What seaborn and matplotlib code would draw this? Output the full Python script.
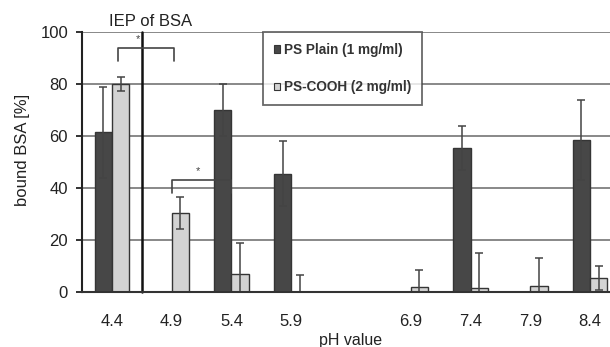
import numpy as np
import pandas as pd
import matplotlib
matplotlib.use('Agg')
import matplotlib.pyplot as plt
import seaborn as sns

# data
ph = ['4.4', '4.9', '5.4', '5.9', '6.4', '6.9', '7.4', '7.9', '8.4']
ph_labels = ['4.4', '4.9', '5.4', '5.9', '', '6.9', '7.4', '7.9', '8.4']
series = ['PS Plain (1 mg/ml)', 'PS-COOH (2 mg/ml)']
plain = [61.5, 0, 70, 45.5, 0, 0, 55.5, 0, 58.5]
plain_err = [17.5, np.nan, 10, 12.5, np.nan, np.nan, 8.5, np.nan, 15.5]
cooh = [80, 30.5, 7, 0, 0, 2, 1.5, 2.5, 5.5]
cooh_err = [2.8, 6.2, 12, 6.5, np.nan, 6.5, 13.5, 10.5, 4.6]

colors = {series[0]: '#474747', series[1]: '#d3d3d3'}

df = pd.DataFrame({
    'pH': ph * 2,
    'bound': plain + cooh,
    'series': [series[0]] * len(ph) + [series[1]] * len(ph),
})

sns.set_style('white')
plt.rcParams['font.family'] = ['Liberation Sans', 'DejaVu Sans']

fig = plt.figure(figsize=(6.1, 3.47), dpi=100)
ax = fig.add_axes([82 / 610, 55 / 347, 538 / 610, 260 / 347])

ax.yaxis.grid(True, color='#7f7f7f', lw=1.3)
ax.set_axisbelow(True)

sns.barplot(data=df, x='pH', y='bound', hue='series', order=ph, hue_order=series,
            palette=colors, width=0.58, gap=0, errorbar=None,
            edgecolor='#353535', linewidth=1.0, ax=ax)

for cont, errs in zip(ax.containers, [plain_err, cooh_err]):
    for bar, e in zip(cont, errs):
        if np.isnan(e):
            continue
        xc = bar.get_x() + bar.get_width() / 2
        ax.errorbar(xc, bar.get_height(), yerr=e, color='#444444', lw=1.1,
                    capsize=3, capthick=1.1)

ax.set_ylim(0, 100)
ax.set_xlim(-0.5, 8.5)
ax.set_yticks([0, 20, 40, 60, 80, 100])
ax.set_xticks(range(len(ph)))
ax.set_xticklabels(ph_labels)
ax.set_xticks(np.arange(-0.5, len(ph), 1), minor=True)
ax.tick_params(axis='x', which='major', length=0, pad=16, labelsize=12, colors='#222222')
ax.tick_params(axis='x', which='minor', length=4, width=1.3, direction='out', color='#333333')
ax.tick_params(axis='y', length=4, width=1.3, direction='out', pad=6, labelsize=12,
               colors='#222222', left=True)

for s in ['top', 'right']:
    ax.spines[s].set_visible(False)
ax.spines['left'].set_color('#222222')
ax.spines['left'].set_linewidth(1.5)
ax.spines['bottom'].set_color('#333333')
ax.spines['bottom'].set_linewidth(1.5)

ax.set_xlabel('pH value', fontsize=11.5, color='#222222', labelpad=3)
ax.set_ylabel('bound BSA [%]', fontsize=12, color='#222222')
ax.yaxis.set_label_coords(-0.097, 0.545)

# isoelectric point marker
ax.axvline(0.5, color='#111111', lw=1.8, clip_on=False)
ax.text(0.65, 102.3, 'IEP of BSA', ha='center', va='baseline', fontsize=12, color='#222222')

# significance brackets
ax.plot([0.1, 0.1, 1.04, 1.04], [88.8, 93.8, 93.8, 88.8], color='#444444', lw=1.2, clip_on=False)
ax.text(0.43, 95.2, '*', ha='center', va='bottom', fontsize=8, color='#444444')
ax.plot([1.0, 1.0, 2.0, 2.0], [38, 43, 43, 38], color='#444444', lw=1.2)
ax.text(1.44, 44.5, '*', ha='center', va='bottom', fontsize=8, color='#444444')

handles = [plt.Rectangle((0, 0), 1, 1, fc=colors[s], ec='#353535', lw=0.8) for s in series]
leg = ax.legend(handles, series, loc='upper left', bbox_to_anchor=(0.336, 1.0),
                borderaxespad=0, frameon=True, fancybox=False, handlelength=0.45,
                handleheight=0.45, handletextpad=0.3, labelspacing=1.7,
                prop={'weight': 'bold', 'size': 9.8}, borderpad=0.8)
leg.get_frame().set_edgecolor('#444444')
leg.get_frame().set_linewidth(1.3)
for t in leg.get_texts():
    t.set_color('#333333')

fig.savefig('out.png', dpi=100)
